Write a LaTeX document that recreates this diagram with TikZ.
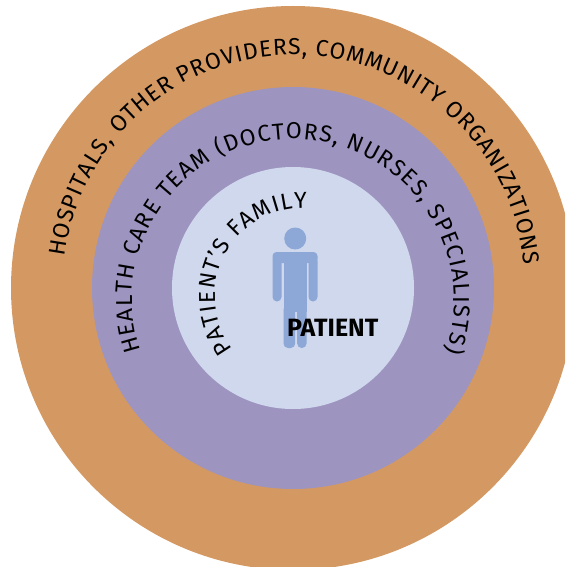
\documentclass[tikz,border=0pt]{standalone}
\usepackage{fontspec}
\setmainfont{Fira Sans}
\usepackage{tikz}
\usetikzlibrary{decorations.text}
\definecolor{outerring}{RGB}{212,153,98}
\definecolor{teamring}{RGB}{157,148,192}
\definecolor{familyring}{RGB}{208,216,238}
\definecolor{patientblue}{RGB}{141,167,214}
\newcommand{\ringfont}{\fontsize{23}{23}\selectfont}
\tikzset{
  ringtext/.style={font=\ringfont, decorate, decoration={text along path, text align=fit to path,
    text={|\ringfont|#1}}}
}

\begin{document}
\begin{tikzpicture}[x=1pt, y=1pt]
\clip (0,0) rectangle (565,-567);

% the three rings
\fill[outerring] (293,-288) circle [radius=282];
\fill[teamring] (293,-288) circle [radius=201];
\fill[familyring] (293,-288) circle [radius=121];

% labels along the rings
\path[ringtext={HOSPITALS, OTHER PROVIDERS, COMMUNITY ORGANIZATIONS}]
  ([shift={(172.7:231)}]294,-286) arc [start angle=172.7, end angle=5.2, radius=231];
\path[ringtext={HEALTH CARE TEAM (DOCTORS, NURSES, SPECIALISTS)}]
  ([shift={(198.4:161)}]293,-300) arc [start angle=198.4, end angle=-18.8, radius=161];
\path[ringtext={PATIENT’S FAMILY}]
  ([shift={(217.3:88)}]303,-296) arc [start angle=217.3, end angle=87.4, radius=88];

% the patient
\fill[patientblue] (295.2,-238.5) circle [radius=11];
\fill[patientblue, rounded corners=4] (272.5,-252) rectangle (317.5,-263);
\fill[patientblue, rounded corners=4.5] (272.5,-256) rectangle (281.5,-301.5);
\fill[patientblue, rounded corners=4.5] (308.5,-256) rectangle (317.5,-301.5);
\fill[patientblue] (283.5,-256) rectangle (306.5,-312);
\fill[patientblue, rounded corners=4.5] (283.5,-305) rectangle (295.2,-348);
\fill[patientblue, rounded corners=4.5] (297.2,-305) rectangle (306.5,-348);

\node[font=\fontsize{25}{25}\selectfont\bfseries, text=black, inner sep=0, anchor=base west]
  (patient) at (287,-336) {PATIENT};

\end{tikzpicture}
\end{document}
